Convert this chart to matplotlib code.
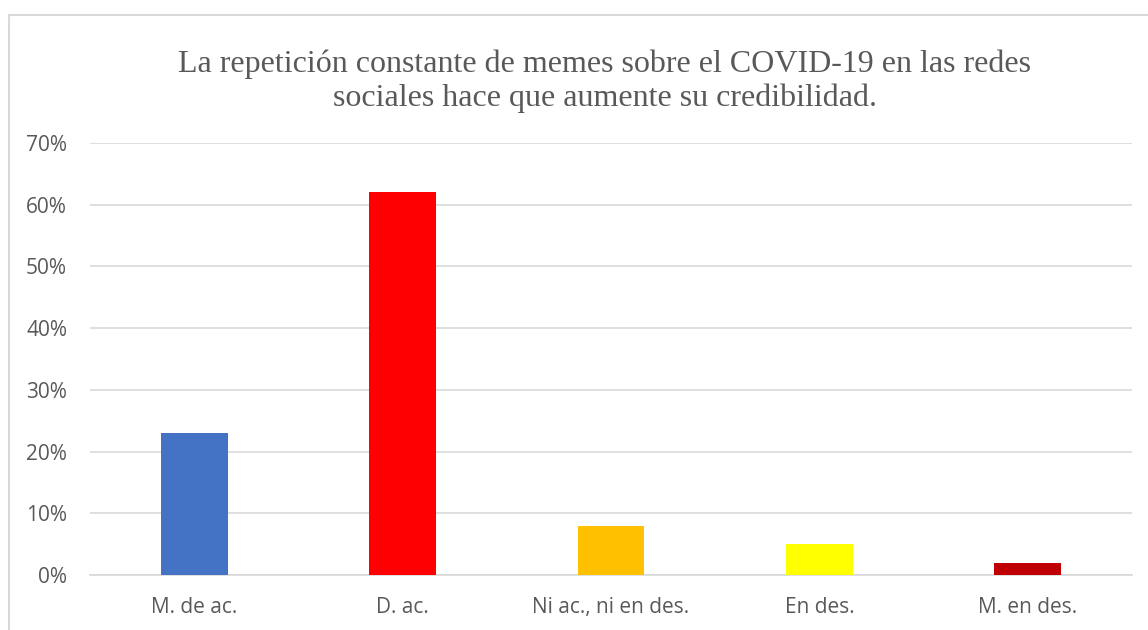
import matplotlib
matplotlib.use("Agg")
import matplotlib.pyplot as plt
from matplotlib.patches import Rectangle

categorias = ["M. de ac.", "D. ac.", "Ni ac., ni en des.", "En des.", "M. en des."]
valores = [0.23, 0.62, 0.08, 0.05, 0.02]
colores = ["#4472C4", "#FF0000", "#FFC000", "#FFFF00", "#C00000"]
ticks_y = [0, 0.1, 0.2, 0.3, 0.4, 0.5, 0.6, 0.7]
titulo = "La repetición constante de memes sobre el COVID-19 en las redes\nsociales hace que aumente su credibilidad."

W, H = 1148, 630
fig = plt.figure(figsize=(W / 100, H / 100), dpi=100)

# chart border (Excel-style)
fig.patches.append(Rectangle((9 / W, -0.05), 1.2, 1 - 15 / H + 0.05,
                             transform=fig.transFigure, fill=False,
                             edgecolor="#D9D9D9", linewidth=1.5))

ax = fig.add_axes([90 / W, 1 - 575 / H, (1132 - 90) / W, (575 - 143) / H])
x = range(len(categorias))
ax.bar(x, valores, width=0.32, color=colores, zorder=3)

ax.set_xlim(-0.5, len(categorias) - 0.5)
ax.set_ylim(0, 0.7)
ax.set_yticks(ticks_y)
ax.set_yticklabels([f"{int(round(t * 100))}%" for t in ticks_y])
ax.set_xticks(list(x))
ax.set_xticklabels(categorias)
ax.grid(axis="y", color="#D9D9D9", linewidth=1.2, zorder=0)
for s in ["top", "right", "left"]:
    ax.spines[s].set_visible(False)
ax.spines["bottom"].set_color("#D9D9D9")
ax.spines["bottom"].set_linewidth(1.2)
ax.tick_params(axis="both", length=0, labelsize=15, colors="#595959", labelfontfamily="Open Sans")
ax.tick_params(axis="y", pad=16.5)
ax.tick_params(axis="x", pad=16)

fig.text(605 / W, 1 - 81 / H, titulo, ha="center", va="center", fontsize=23,
         family="Liberation Serif", color="#595959", linespacing=1.2)

fig.savefig("out.png", dpi=100)
